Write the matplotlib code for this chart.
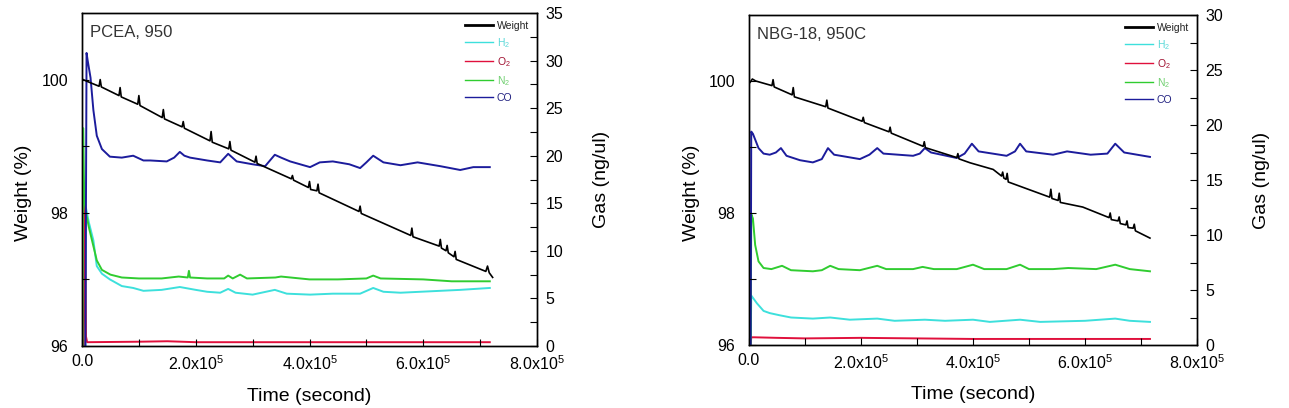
import matplotlib
matplotlib.use("Agg")
import matplotlib.pyplot as plt
from matplotlib.lines import Line2D
from matplotlib.ticker import MultipleLocator, FuncFormatter

plt.rcParams['font.family'] = ['Liberation Sans', 'DejaVu Sans']
plt.rcParams['mathtext.fontset'] = 'custom'
plt.rcParams['mathtext.rm'] = 'Liberation Sans'
plt.rcParams['mathtext.it'] = 'Liberation Sans'

# ---------------- data (time in units of 1e5 s) ----------------
# Left panel: PCEA, 950
wL_t = [0.02, 0.10, 0.30, 0.32, 0.34, 0.65, 0.67, 0.69, 0.98, 1.00, 1.02, 1.41, 1.43, 1.45,
        1.76, 1.78, 1.80, 2.25, 2.27, 2.29, 2.58, 2.60, 2.62, 3.04, 3.06, 3.08, 3.68, 3.70,
        3.72, 3.98, 4.00, 4.02, 4.13, 4.15, 4.17, 4.87, 4.89, 4.91, 5.78, 5.80, 5.82, 6.28,
        6.30, 6.32, 6.40, 6.42, 6.44, 6.54, 6.56, 6.58, 7.10, 7.13, 7.16, 7.22]
wL_v = [100.0, 99.97, 99.9, 100.0, 99.89, 99.76, 99.88, 99.74, 99.63, 99.76, 99.61, 99.43,
        99.55, 99.41, 99.29, 99.37, 99.27, 99.08, 99.22, 99.06, 98.96, 99.07, 98.94, 98.76,
        98.85, 98.74, 98.51, 98.56, 98.49, 98.38, 98.47, 98.35, 98.33, 98.43, 98.30, 98.02,
        98.10, 97.99, 97.66, 97.77, 97.64, 97.50, 97.60, 97.47, 97.43, 97.51, 97.40, 97.34,
        97.42, 97.30, 97.12, 97.20, 97.10, 97.03]

h2L_t = [0.06, 0.07, 0.12, 0.20, 0.26, 0.35, 0.49, 0.70, 0.90, 1.08, 1.40, 1.72, 2.00, 2.20,
         2.43, 2.57, 2.70, 3.00, 3.39, 3.60, 4.01, 4.41, 4.89, 5.12, 5.30, 5.60, 6.30, 6.65, 7.17]
h2L_v = [0, 14.5, 13.0, 11.1, 8.4, 7.6, 7.0, 6.3, 6.1, 5.8, 5.9, 6.2, 5.9, 5.7, 5.6, 6.0, 5.6,
         5.4, 5.9, 5.5, 5.4, 5.5, 5.5, 6.1, 5.7, 5.6, 5.8, 5.9, 6.1]

o2L_t = [0.03, 0.05, 0.07, 0.09, 1.0, 1.5, 2.0, 3.0, 4.0, 5.0, 6.0, 7.17]
o2L_v = [0, 15.9, 1.0, 0.4, 0.45, 0.5, 0.4, 0.4, 0.4, 0.4, 0.4, 0.4]

n2L_t = [0.01, 0.02, 0.04, 0.07, 0.12, 0.20, 0.26, 0.35, 0.50, 0.70, 1.0, 1.4, 1.7, 1.86,
         1.88, 1.90, 2.2, 2.5, 2.57, 2.65, 2.78, 2.9, 3.4, 3.5, 4.0, 4.5, 5.0, 5.12, 5.25,
         6.0, 6.5, 7.17]
n2L_v = [0, 22.9, 15.5, 14.0, 12.5, 10.5, 9.0, 8.0, 7.5, 7.2, 7.1, 7.1, 7.3, 7.2, 7.9, 7.2,
         7.1, 7.1, 7.4, 7.1, 7.5, 7.1, 7.2, 7.3, 7.0, 7.0, 7.1, 7.4, 7.1, 7.0, 6.8, 6.8]

coL_t = [0.06, 0.08, 0.10, 0.15, 0.20, 0.26, 0.35, 0.49, 0.70, 0.90, 1.08, 1.20, 1.49, 1.62,
         1.72, 1.80, 1.90, 2.20, 2.43, 2.57, 2.72, 3.00, 3.22, 3.39, 3.50, 3.66, 4.01, 4.18,
         4.41, 4.70, 4.89, 5.00, 5.12, 5.30, 5.60, 5.90, 6.30, 6.65, 6.88, 7.17]
coL_v = [0, 30.8, 30.0, 28.2, 24.8, 22.1, 20.7, 19.9, 19.8, 20.0, 19.5, 19.5, 19.4, 19.8,
         20.4, 20.0, 19.8, 19.5, 19.3, 20.2, 19.4, 19.1, 18.9, 20.1, 19.8, 19.4, 18.8, 19.3,
         19.4, 19.1, 18.7, 19.3, 20.0, 19.3, 19.0, 19.3, 18.9, 18.5, 18.8, 18.8]

# Right panel: NBG-18, 950C
wR_t = [0.02, 0.06, 0.12, 0.41, 0.43, 0.45, 0.77, 0.79, 0.81, 1.37, 1.39, 1.41, 2.02, 2.04,
        2.06, 2.50, 2.52, 2.54, 3.11, 3.13, 3.15, 3.71, 3.73, 3.75, 3.95, 4.36, 4.51, 4.53,
        4.55, 4.59, 4.61, 4.63, 5.37, 5.39, 5.41, 5.52, 5.54, 5.56, 5.96, 6.43, 6.45, 6.47,
        6.59, 6.61, 6.63, 6.73, 6.75, 6.77, 6.86, 6.88, 6.90, 7.16]
wR_v = [99.98, 100.03, 100.0, 99.93, 100.02, 99.91, 99.79, 99.9, 99.76, 99.61, 99.71, 99.59,
        99.39, 99.45, 99.37, 99.23, 99.3, 99.21, 99.01, 99.08, 98.99, 98.84, 98.9, 98.82,
        98.76, 98.66, 98.56, 98.62, 98.53, 98.51, 98.6, 98.47, 98.24, 98.36, 98.22, 98.19,
        98.3, 98.16, 98.09, 97.93, 98.0, 97.9, 97.88, 97.94, 97.84, 97.82, 97.88, 97.78,
        97.77, 97.83, 97.73, 97.62]

h2R_t = [0.03, 0.04, 0.14, 0.26, 0.37, 0.55, 0.75, 1.14, 1.45, 1.80, 2.29, 2.60, 3.14, 3.50,
         4.00, 4.30, 4.84, 5.20, 6.00, 6.54, 6.80, 7.16]
h2R_v = [0, 4.5, 3.8, 3.1, 2.9, 2.7, 2.5, 2.4, 2.5, 2.3, 2.4, 2.2, 2.3, 2.2, 2.3, 2.1, 2.3,
         2.1, 2.2, 2.4, 2.2, 2.1]

o2R_t = [0.03, 0.04, 0.10, 0.50, 1.00, 2.00, 3.00, 4.00, 5.00, 6.00, 7.16]
o2R_v = [0, 0.7, 0.7, 0.65, 0.6, 0.65, 0.6, 0.55, 0.55, 0.55, 0.55]

n2R_t = [0.03, 0.04, 0.07, 0.11, 0.17, 0.26, 0.40, 0.59, 0.75, 1.14, 1.30, 1.45, 1.60, 1.98,
         2.29, 2.45, 2.93, 3.10, 3.30, 3.71, 4.00, 4.20, 4.60, 4.84, 5.00, 5.43, 5.70, 6.20,
         6.54, 6.80, 7.16]
n2R_v = [0, 11.9, 11.5, 9.1, 7.6, 7.0, 6.9, 7.2, 6.8, 6.7, 6.8, 7.2, 6.9, 6.8, 7.2, 6.9, 6.9,
         7.1, 6.9, 6.9, 7.3, 6.9, 6.9, 7.3, 6.9, 6.9, 7.0, 6.9, 7.3, 6.9, 6.7]

coR_t = [0.03, 0.04, 0.07, 0.17, 0.26, 0.37, 0.48, 0.57, 0.67, 0.91, 1.14, 1.30, 1.41, 1.52,
         1.98, 2.15, 2.29, 2.40, 2.93, 3.05, 3.14, 3.25, 3.71, 3.85, 3.98, 4.10, 4.60, 4.75,
         4.84, 4.95, 5.43, 5.68, 6.10, 6.40, 6.54, 6.70, 7.16]
coR_v = [0, 19.4, 19.2, 17.9, 17.4, 17.3, 17.5, 17.9, 17.2, 16.8, 16.6, 16.9, 17.9, 17.3,
         16.9, 17.3, 17.9, 17.4, 17.2, 17.4, 17.9, 17.5, 17.0, 17.4, 18.3, 17.6, 17.2, 17.6,
         18.3, 17.6, 17.3, 17.6, 17.3, 17.4, 18.3, 17.5, 17.1]

panel_titles = ["PCEA, 950", "NBG-18, 950C"]
gas_max = [35, 30]
legend_labels = ["Weight", "H$_2$", "O$_2$", "N$_2$", "CO"]

# ---------------- styles ----------------
C_W = "#000000"
C_H2 = "#3de0dc"
C_O2 = "#e0103c"
C_N2 = "#30cc30"
C_CO = "#1c1c9c"
TXT_COLORS = ["#222222", "#5ad8d8", "#a01030", "#70d070", "#202080"]

fig = plt.figure(figsize=(12.89, 4.08), dpi=100)
W, H = 1289.0, 408.0
boxes = [(82, 13, 537, 346), (749, 15, 1197, 345)]
label_x = [(-0.11, 1.123), (-0.109, 1.125)]

panels = [
    (wL_t, wL_v, h2L_t, h2L_v, o2L_t, o2L_v, n2L_t, n2L_v, coL_t, coL_v),
    (wR_t, wR_v, h2R_t, h2R_v, o2R_t, o2R_v, n2R_t, n2R_v, coR_t, coR_v),
]

def xfmt(v, pos):
    if abs(v) < 1:
        return "0.0"
    m = v / 1e5
    return r"$\mathregular{%.1fx10^{5}}$" % m

for i, (box, data) in enumerate(zip(boxes, panels)):
    x0, y0, x1, y1 = box
    ax = fig.add_axes([x0 / W, 1 - y1 / H, (x1 - x0) / W, (y1 - y0) / H])
    ax2 = ax.twinx()
    wt, wv, ht, hv, ot, ov, nt, nv, ct, cv = data
    sc = 1e5
    ax2.plot([t * sc for t in ht], hv, color=C_H2, lw=1.4, zorder=2)
    ax2.plot([t * sc for t in ot], ov, color=C_O2, lw=1.4, zorder=2)
    ax2.plot([t * sc for t in nt], nv, color=C_N2, lw=1.4, zorder=3)
    ax2.plot([t * sc for t in ct], cv, color=C_CO, lw=1.4, zorder=4)
    ax.plot([t * sc for t in wt], wv, color=C_W, lw=1.2, zorder=5)
    ax.set_zorder(ax2.get_zorder() + 1)
    ax.patch.set_visible(False)

    ax.set_xlim(0, 8e5)
    ax.set_ylim(96, 101)
    ax2.set_ylim(0, gas_max[i])
    ax.xaxis.set_major_locator(MultipleLocator(2e5))
    ax.xaxis.set_minor_locator(MultipleLocator(1e5))
    ax.xaxis.set_major_formatter(FuncFormatter(xfmt))
    ax.set_yticks([96, 98, 100])
    ax.set_yticks([97, 99], minor=True)
    ax2.yaxis.set_major_locator(MultipleLocator(5))
    ax2.yaxis.set_minor_locator(MultipleLocator(2.5))

    ax.tick_params(axis='both', which='both', direction='in', length=5, width=0.8,
                   labelsize=11.5, top=False, right=False)
    ax.tick_params(axis='y', pad=10)
    ax.tick_params(axis='x', pad=6)
    ax2.tick_params(axis='y', which='both', direction='in', length=5, width=0.8,
                    labelsize=11.5, pad=6)
    for a in (ax, ax2):
        for s in a.spines.values():
            s.set_linewidth(1.0)

    ax.set_xlabel("Time (second)", fontsize=14)
    ax.set_ylabel("Weight (%)", fontsize=14)
    ax2.set_ylabel("Gas (ng/ul)", fontsize=14)
    ax.xaxis.set_label_coords(0.5, -0.125)
    ax.yaxis.set_label_coords(label_x[i][0], 0.46)
    ax2.yaxis.set_label_coords(label_x[i][1], 0.5)

    ax.text(0.018, 0.94, panel_titles[i], transform=ax.transAxes, fontsize=12,
            color="#333333", va='center', ha='left')

    handles = [Line2D([], [], color=C_W, lw=2.0),
               Line2D([], [], color=C_H2, lw=1.0),
               Line2D([], [], color=C_O2, lw=1.0),
               Line2D([], [], color=C_N2, lw=1.0),
               Line2D([], [], color=C_CO, lw=1.0)]
    leg = ax.legend(handles, legend_labels, loc='upper right', frameon=False,
                    fontsize=7.5, handlelength=2.7, handletextpad=0.35,
                    labelspacing=0.5, borderaxespad=0.35, bbox_to_anchor=(1.0, 1.0))
    for t, c in zip(leg.get_texts(), TXT_COLORS):
        t.set_color(c)

fig.savefig("out.png", dpi=100)
